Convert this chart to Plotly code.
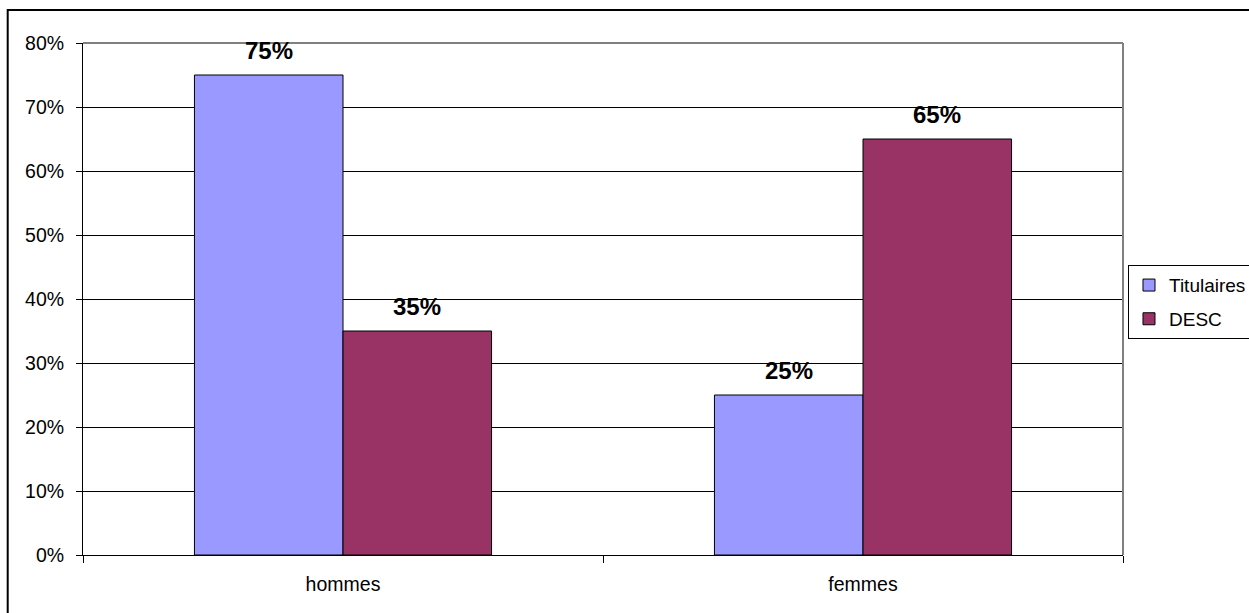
import plotly.graph_objects as go

categories = ["hommes", "femmes"]
titulaires = [75, 25]
desc = [35, 65]
y_ticks = [0, 10, 20, 30, 40, 50, 60, 70, 80]

FONT = "Liberation Sans, Arial, sans-serif"
TXT = 19.5

fig = go.Figure()
fig.add_trace(go.Bar(
    name="Titulaires", x=categories, y=titulaires, legendgroup="a",
    marker=dict(color="#9999FF", line=dict(color="#000000", width=1)),
))
fig.add_trace(go.Bar(
    name="DESC", x=categories, y=desc, legendgroup="b",
    marker=dict(color="#993366", line=dict(color="#000000", width=1)),
))

# value labels above each bar
for i, series in enumerate([titulaires, desc]):
    offset = -0.5 if i == 0 else 0.5
    for j, v in enumerate(series):
        fig.add_annotation(
            x=j, y=v, xref="x", yref="y", text=f"<b>{v}%</b>",
            showarrow=False, yanchor="middle", yshift=25,
            xshift=offset * 148,
            font=dict(family=FONT, size=24, color="#000000"),
        )

# outer chart border
fig.add_shape(type="rect", xref="paper", yref="paper",
              x0=-0.0724, x1=1.2, y0=-0.3, y1=1.0645,
              line=dict(color="#000000", width=2), layer="below")

fig.update_layout(
    width=1249, height=613,
    margin=dict(l=83, r=126, t=43, b=58, autoexpand=False),
    paper_bgcolor="white", plot_bgcolor="white",
    barmode="group", bargap=0.4286, bargroupgap=0,
    font=dict(family=FONT, size=TXT, color="#000000"),
    showlegend=True,
    legend=dict(
        x=1.0048, y=0.566, xanchor="left", yanchor="top",
        bordercolor="#000000", borderwidth=1, bgcolor="white",
        font=dict(family=FONT, size=19), traceorder="grouped",
        tracegroupgap=6, itemwidth=30,
    ),
    xaxis=dict(
        type="category", tickson="boundaries", ticks="outside",
        ticklen=7, tickcolor="#000000", showline=True, linecolor="#000000",
        linewidth=1, showgrid=False, mirror=False,
        tickfont=dict(family=FONT, size=TXT), ticklabelstandoff=12,
    ),
    yaxis=dict(
        range=[0, 80], tickvals=y_ticks, ticktext=[f"{v}%" for v in y_ticks],
        ticks="outside", ticklen=6, tickcolor="#000000",
        showline=True, linecolor="#000000", linewidth=1,
        showgrid=True, gridcolor="#000000", gridwidth=1,
        zeroline=False, tickfont=dict(family=FONT, size=TXT),
        ticklabelstandoff=8,
    ),
)

# plot-area frame (grey top and right edges)
fig.add_shape(type="line", xref="paper", yref="paper", x0=0, x1=1, y0=1, y1=1,
              line=dict(color="#808080", width=2))
fig.add_shape(type="line", xref="paper", yref="paper", x0=1, x1=1, y0=0, y1=1,
              line=dict(color="#808080", width=2))

fig.write_html("out.html")
